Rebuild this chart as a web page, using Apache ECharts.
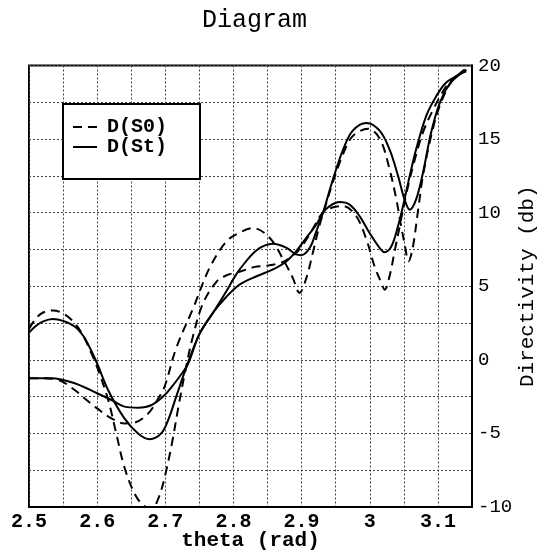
<!DOCTYPE html>
<html>
<head>
<meta charset="utf-8">
<script src="https://cdn.jsdelivr.net/npm/echarts@6/dist/echarts.min.js"></script>
<style>
html,body{margin:0;padding:0;background:#fff;}
#chart{width:538px;height:552px;}
</style>
</head>
<body>
<div id="chart"></div>
<script>
// ---- data ----
const xTickLabels = ['2.5','2.6','2.7','2.8','2.9','3','3.1'];
const yTickLabels = ['-10','-5','0','5','10','15','20'];

// D(S0) branch 1 (deep minimum, plateau, lower upper branch)
const thetaS0a = [2.5,2.51,2.52,2.535,2.55,2.567,2.58,2.59,2.6,2.616,2.628,2.64,2.655,2.668,2.68,2.69,2.70,2.71,2.72,2.73,2.74,2.755,2.775,2.79,2.81,2.83,2.85,2.87,2.885,2.897,2.91,2.92,2.931,2.945,2.961,2.98,2.995,3.007,3.017,3.022,3.029,3.037,3.044,3.054,3.066,3.078,3.093,3.1125,3.13,3.1416];
const dS0a     = [2.1,2.8,3.2,3.35,3.15,2.5,1.6,0.6,-0.5,-2.7,-5.0,-7.3,-9.1,-9.9,-10.1,-9.4,-7.8,-5.6,-3.0,-0.6,1.5,3.8,5.3,5.75,6.0,6.3,6.4,6.6,7.0,7.5,8.4,9.2,10.0,10.35,10.45,9.77,8.18,6.36,5.23,4.77,5.68,7.5,9.09,11.36,13.6,15.45,17.0,18.6,19.4,19.7];

// D(S0) branch 2 (shallow minimum, hump, higher upper branch)
const thetaS0b = [2.5,2.52,2.543,2.567,2.585,2.6,2.621,2.64,2.655,2.675,2.69,2.699,2.716,2.741,2.765,2.79,2.809,2.829,2.853,2.873,2.887,2.897,2.907,2.917,2.9266,2.934,2.946,2.961,2.975,2.9975,3.015,3.029,3.039,3.046,3.051,3.057,3.063,3.071,3.078,3.09,3.103,3.12,3.1416];
const dS0b     = [-1.25,-1.25,-1.36,-2.05,-2.75,-3.3,-3.98,-4.32,-4.27,-3.64,-2.6,-1.82,0.8,3.52,6.25,8.06,8.64,8.95,8.3,6.82,5.57,4.55,5.57,7.38,9.2,10.3,12.1,14.0,15.2,15.7,15.0,12.95,10.9,9.09,7.9,6.7,7.6,10.2,12.5,15.2,17.3,18.9,19.8];

// D(St) branch 1 (peak, deep minimum, hump, higher upper branch)
const thetaSta = [2.5,2.51,2.52,2.535,2.55,2.567,2.58,2.59,2.6,2.616,2.64,2.66,2.677,2.694,2.705,2.716,2.733,2.75,2.77,2.79,2.8,2.81,2.834,2.858,2.878,2.892,2.8997,2.912,2.9217,2.9314,2.946,2.961,2.975,2.995,3.0145,3.029,3.0415,3.051,3.0586,3.068,3.078,3.09,3.103,3.117,3.132,3.1416];
const dSta     = [1.85,2.3,2.6,2.77,2.65,2.27,1.6,0.75,-0.25,-2.05,-3.98,-5.0,-5.39,-5.0,-4.0,-2.5,-0.23,1.75,3.2,4.7,5.5,6.2,7.45,7.89,7.61,7.16,7.11,7.61,8.75,10.0,12.27,14.3,15.57,16.1,15.57,14.3,12.5,10.9,10.2,10.9,12.7,15.45,17.5,18.74,19.4,19.7];

// D(St) branch 2 (flat start, shallow minimum, lower upper branch)
const thetaStb = [2.5,2.533,2.567,2.6,2.621,2.64,2.66,2.68,2.699,2.71,2.72,2.733,2.75,2.77,2.79,2.809,2.834,2.858,2.878,2.892,2.907,2.9217,2.9314,2.941,2.956,2.97,2.985,2.9995,3.0145,3.0216,3.0316,3.0415,3.0488,3.0586,3.068,3.083,3.098,3.1125,3.132,3.1416];
const dStb     = [-1.25,-1.25,-1.59,-2.27,-2.73,-3.18,-3.25,-3.07,-2.39,-1.8,-1.2,-0.3,1.75,3.2,4.3,5.11,5.68,6.14,6.7,7.38,8.3,9.2,10.0,10.45,10.72,10.56,9.77,8.64,7.6,7.31,7.7,9.09,10.45,12.5,14.3,16.6,17.95,18.86,19.4,19.6];

function pairs(xs, ys){ return xs.map((x,i)=>[x, ys[i]]); }
function pickLabel(list, v){
  for (const s of list){ if (Math.abs(parseFloat(s) - v) < 1e-6) return s; }
  return '';
}

const FONT = 'Liberation Mono';
const DASH = [9,6];
const dashed = {color:'#000', width:2, type:DASH};
const solid  = {color:'#000', width:2, type:'solid'};

const chart = echarts.init(document.getElementById('chart'), null, {renderer:'canvas'});
chart.setOption({
  animation:false,
  backgroundColor:'#fff',
  color:['#000','#000','#000','#000'],
  title:{
    text:'Diagram', left:197, top:3,
    textStyle:{fontFamily:FONT, fontSize:25, fontWeight:'normal', color:'#000'}
  },
  legend:{
    orient:'vertical', left:63, top:104,
    data:[
      {name:'D(S0)', icon:'path://M0,0h9v2h-9z M15,0h9v2h-9z'},
      {name:'D(St)', icon:'path://M0,0h24v2h-24z'}
    ],
    borderColor:'#000', borderWidth:2, backgroundColor:'#fff',
    padding:[13,33,22,10],
    itemWidth:24, itemHeight:2, itemGap:0,
    itemStyle:{color:'#000', borderWidth:0, opacity:1},
    textStyle:{fontFamily:FONT, fontSize:20, fontWeight:'bold', color:'#000', lineHeight:17, padding:[0,0,0,5]},
    selectedMode:false
  },
  grid:{left:29, right:66, top:65.5, bottom:45, show:true, borderColor:'#000', borderWidth:2,
        backgroundColor:'transparent', containLabel:false, outerBoundsMode:'none'},
  xAxis:{
    type:'value', min:2.5, max:3.15, interval:0.05,
    name:'theta (rad)', nameLocation:'middle', nameGap:23, nameMoveOverlap:false,
    nameTextStyle:{fontFamily:FONT, fontSize:21, fontWeight:'bold', color:'#000'},
    axisLine:{show:true, onZero:false, lineStyle:{color:'#000', width:2}},
    axisTick:{show:false},
    axisLabel:{fontFamily:FONT, fontSize:20, fontWeight:'bold', color:'#000', margin:5, interval:0,
      showMaxLabel:false, formatter:v=>pickLabel(xTickLabels, v)},
    splitLine:{show:true, lineStyle:{type:[2,2], color:'#444', width:1}}
  },
  yAxis:{
    type:'value', position:'right', min:-10, max:20, interval:2.5,
    name:'Directivity (db)', nameLocation:'middle', nameGap:45, nameRotate:90, nameMoveOverlap:false,
    nameTextStyle:{fontFamily:FONT, fontSize:21, fontWeight:'normal', color:'#000'},
    axisLine:{show:true, onZero:false, lineStyle:{color:'#000', width:2}},
    axisTick:{show:false},
    axisLabel:{fontFamily:FONT, fontSize:19, color:'#000', margin:6, formatter:v=>pickLabel(yTickLabels, v)},
    splitLine:{show:true, lineStyle:{type:[2,2], color:'#444', width:1}}
  },
  series:[
    {name:'D(S0)', type:'line', data:pairs(thetaS0a, dS0a), symbol:'none', smooth:0.35, lineStyle:dashed, itemStyle:{color:'#000'}, clip:true, z:3},
    {name:'D(S0)', type:'line', data:pairs(thetaS0b, dS0b), symbol:'none', smooth:0.35, lineStyle:dashed, itemStyle:{color:'#000'}, clip:true, z:3},
    {name:'D(St)', type:'line', data:pairs(thetaSta, dSta), symbol:'none', smooth:0.35, lineStyle:solid, itemStyle:{color:'#000'}, clip:true, z:4},
    {name:'D(St)', type:'line', data:pairs(thetaStb, dStb), symbol:'none', smooth:0.35, lineStyle:solid, itemStyle:{color:'#000'}, clip:true, z:4}
  ]
});
</script>
</body>
</html>
